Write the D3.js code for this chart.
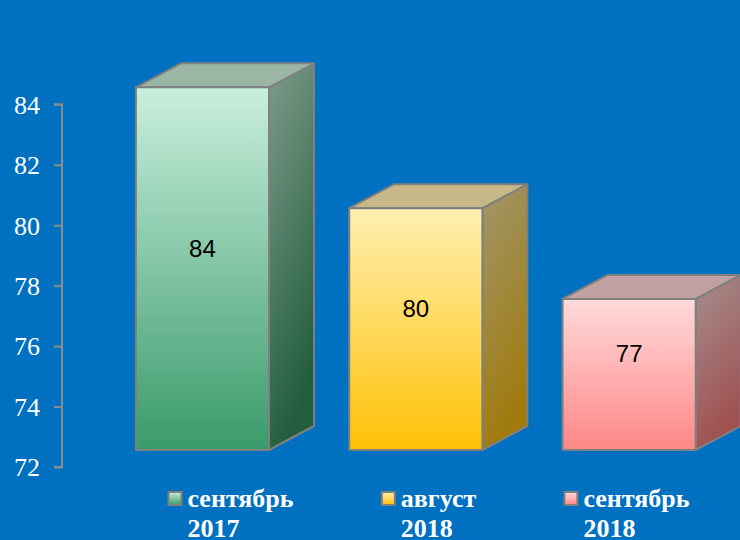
<!DOCTYPE html>
<html>
<head>
<meta charset="utf-8">
<script src="https://cdn.jsdelivr.net/npm/d3@7"></script>
<style>
  html, body { margin: 0; padding: 0; background: #0070C0; }
  svg { display: block; }
</style>
</head>
<body>
<svg id="chart" width="740" height="540"></svg>
<script>
// Chart data
const categories = ["сентябрь 2017", "август 2018", "сентябрь 2018"];
const legendLines = [["сентябрь", "2017"], ["август", "2018"], ["сентябрь", "2018"]];
const values = [84, 80, 77];
const yTicks = [72, 74, 76, 78, 80, 82, 84];

// Colour sets per bar: front gradient (top, bottom), side gradient, top face
const palette = [
  { frontTop: "#C9EFDD", frontBot: "#3A9A6A", sideTop: "#7F9B8B", sideBot: "#225E3E", top: "#9BB6A4" },
  { frontTop: "#FFEFB2", frontBot: "#FFC105", sideTop: "#A0976C", sideBot: "#A07A0C", top: "#C6B987" },
  { frontTop: "#FFDADA", frontBot: "#FF8787", sideTop: "#A58E8E", sideBot: "#A05050", top: "#C1A1A1" }
];

const SERIF = "'Liberation Serif', 'Times New Roman', serif";
const SANS = "'Liberation Sans', Arial, sans-serif";

const svg = d3.select("#chart");

const y = d3.scaleLinear().domain([72, 84]).range([467, 104.3]);
const x = d3.scaleBand().domain(categories).range([95.8, 735.8])
  .paddingInner(0.376).paddingOuter(0.188);

// 3D projection of the box
const lift = 17;          // front face sits above the axis plane
const depthX = 45, depthY = -24;

const defs = svg.append("defs");
palette.forEach((p, i) => {
  const gf = defs.append("linearGradient").attr("id", "front" + i)
    .attr("x1", 0).attr("y1", 0).attr("x2", 0).attr("y2", 1);
  gf.append("stop").attr("offset", "0%").attr("stop-color", p.frontTop);
  gf.append("stop").attr("offset", "100%").attr("stop-color", p.frontBot);
  const gs = defs.append("linearGradient").attr("id", "side" + i)
    .attr("x1", 0).attr("y1", 0).attr("x2", 0.3).attr("y2", 1);
  gs.append("stop").attr("offset", "0%").attr("stop-color", p.sideTop);
  gs.append("stop").attr("offset", "100%").attr("stop-color", p.sideBot);
});

// Y axis
const axisG = svg.append("g").attr("transform", "translate(62,0)")
  .call(d3.axisLeft(y).tickValues(yTicks).tickSize(8).tickPadding(14).tickFormat(d3.format("d")))
  .attr("font-family", SERIF)
  .attr("font-size", 26);
axisG.select(".domain").attr("stroke", "#8C8C8C").attr("stroke-width", 2).attr("d", `M-8,${y(84)}H0V${y(72)}H-8`);
axisG.selectAll(".tick line").attr("stroke", "#8C8C8C").attr("stroke-width", 2);
axisG.selectAll(".tick text").attr("fill", "#FFFFFF").attr("dy", "0.34em");

// Bars
const bars = svg.append("g").selectAll("g.bar").data(values).join("g").attr("class", "bar");
bars.each(function (v, i) {
  const g = d3.select(this);
  const x0 = x(categories[i]), x1 = x0 + x.bandwidth();
  const yT = y(v) - lift, yB = y(72) - lift;
  const edge = { stroke: "#808080", "stroke-width": 2, "stroke-linejoin": "round" };
  const side = g.append("path")
    .attr("d", `M${x1},${yT}L${x1 + depthX},${yT + depthY}L${x1 + depthX},${yB + depthY}L${x1},${yB}Z`)
    .attr("fill", `url(#side${i})`);
  const top = g.append("path")
    .attr("d", `M${x0},${yT}L${x0 + depthX},${yT + depthY}L${x1 + depthX},${yT + depthY}L${x1},${yT}Z`)
    .attr("fill", palette[i].top);
  const front = g.append("rect")
    .attr("x", x0).attr("y", yT).attr("width", x.bandwidth()).attr("height", yB - yT)
    .attr("fill", `url(#front${i})`);
  [side, top, front].forEach(s => Object.entries(edge).forEach(([k, val]) => s.attr(k, val)));

  g.append("text")
    .attr("x", x0 + x.bandwidth() / 2)
    .attr("y", (yT + yB) / 2 - 12)
    .attr("text-anchor", "middle")
    .attr("fill", "#000000")
    .attr("font-family", SANS)
    .attr("font-size", 24)
    .text(v);
});

// Legend
const legend = svg.append("g").attr("class", "legend");
let lx = 167.5;
legendLines.forEach((lines, i) => {
  const item = legend.append("g").attr("transform", `translate(${lx},0)`);
  item.append("rect").attr("x", 1).attr("y", 492).attr("width", 13).attr("height", 13)
    .attr("fill", `url(#front${i})`).attr("stroke", "#7F7F7F").attr("stroke-width", 2);
  const t = item.append("text")
    .attr("fill", "#FFFFFF")
    .attr("font-family", SERIF)
    .attr("font-size", 26)
    .attr("font-weight", "bold");
  lines.forEach((ln, k) => {
    t.append("tspan").attr("x", 20).attr("y", 507 + k * 30).text(ln);
  });
  const w = t.node().getBBox().width;
  lx += 20 + w + 87;
});
</script>
</body>
</html>
